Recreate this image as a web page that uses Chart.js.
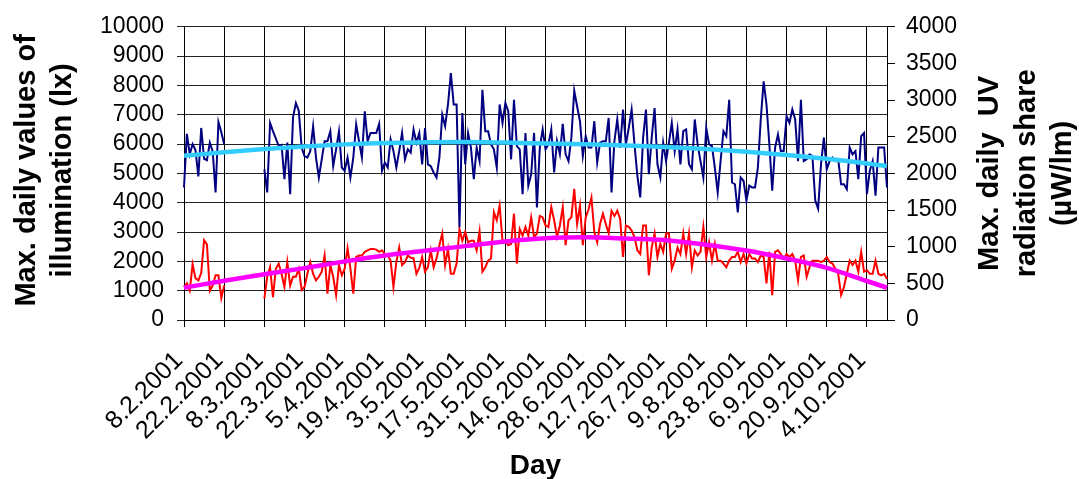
<!DOCTYPE html>
<html>
<head>
<meta charset="utf-8">
<script src="https://cdn.jsdelivr.net/npm/chart.js@4.4.1/dist/chart.umd.min.js"></script>
<style>
  html, body { margin: 0; padding: 0; background: #fff; }
  #wrap { width: 1079px; height: 479px; position: relative; }
</style>
</head>
<body>
<div id="wrap"><canvas id="c"></canvas></div>
<script>
// Maximum daily illumination (lx), one value per day from 8.2.2001; null = no measurement
const illumination = [
  4520,6350,5650,6000,5800,4900,6550,5500,5450,6050,5750,4350,6750,6400,6000,
  null,null,null,null,null,null,null,null,null,null,null,null,null,
  5140,4350,6720,6440,6190,5930,5970,4800,6050,4290,
  6920,7400,7140,5880,5590,5540,5760,6610,5540,4860,
  5480,6100,6100,6440,5250,5820,6440,5200,5090,5540,
  4860,5540,6670,6100,5540,7120,6100,6380,6380,6380,
  6690,5090,5370,5200,6160,5760,5200,5760,6380,5480,
  5820,5710,6500,6050,6380,5310,6550,5310,5250,5030,
  4860,5540,7000,6610,7350,8420,7350,7350,3160,7060,
  5310,6380,
  5880,4800,5880,5420,7850,6440,6440,5990,5820,5200,
  7350,6720,7400,7120,5480,7510,5930,5820,4290,6380,
  4580,4970,6380,3840,5880,6500,5820,5990,6500,5030,
  6100,5650,6690,5650,5420,6220,7820,7290,6780,5590,
  6270,5880,5880,6780,5370,6050,6100,6100,6890,4350,
  6100,6840,5880,7180,5990,6550,7180,5990,4920,4180,
  6220,7180,4970,6220,7230,5310,4860,6050,5420,6050,
  6720,5760,6500,5310,6440,6500,5310,5140,6840,5990,
  5420,4860,6550,5990,5930,5200,4350,5420,6440,6270,
  7510,4690,4630,3670,4860,4750,4070,4580,4520,4520,
  5200,6840,8140,7350,5990,4410,5880,6330,5760,5760,
  6950,6720,7180,6840,5420,7510,5420,5480,5650,5590,
  4070,3790,5310,6220,5140,5420,5540,5420,5480,4630,
  4630,4460,5880,5650,5760,4800,6270,6380,4290,5090,
  5420,4240,5880,5880,5880,4520
];

// Maximum daily UV radiation share (µW/lm), same days
const uvShare = [
  450,500,400,760,570,540,640,1090,1030,400,470,610,610,300,470,
  null,null,null,null,null,null,null,null,null,null,null,null,null,
  290,590,720,310,700,770,630,450,790,470,
  590,590,700,410,450,630,790,630,540,590,
  660,880,360,750,590,340,750,610,700,980,
  700,360,860,880,880,930,950,970,970,960,
  930,950,900,880,810,450,790,990,750,790,
  880,850,840,630,710,860,660,720,950,720,
  840,1020,1180,750,970,630,630,770,1240,1080,
  1200,1060,
  1080,1080,950,1210,660,720,810,840,1470,1360,
  1560,1080,1080,1020,1040,1450,770,1240,1150,1270,
  1150,1400,1130,1180,1420,1400,1290,1270,1540,1360,
  1130,1290,1540,1020,1360,1400,1790,1310,1560,1020,
  1400,1510,1670,1200,1060,1310,1450,1310,1180,1490,
  1420,1490,1380,860,1290,1270,1220,1130,950,900,
  1290,1290,610,990,1180,860,1040,930,1180,1180,
  700,810,990,900,1180,900,1180,720,950,880,
  930,1270,860,1060,810,1040,810,810,770,720,
  810,860,860,930,790,900,770,900,840,840,
  790,880,860,500,930,340,930,950,900,840,
  900,860,900,810,540,860,880,590,720,810,
  810,810,790,810,860,790,770,700,630,340,
  450,630,810,750,810,660,930,660,680,630,
  630,810,630,610,630,560
];

// Labelled days on the time axis (every 14 days)
const tickLabels = [
  '8.2.2001','22.2.2001','8.3.2001','22.3.2001','5.4.2001','19.4.2001',
  '3.5.2001','17.5.2001','31.5.2001','14.6.2001','28.6.2001','12.7.2001',
  '26.7.2001','9.8.2001','23.8.2001','6.9.2001','20.9.2001','4.10.2001'
];

// Trend curves, sampled at the labelled days and the last day
const trendDays = [...tickLabels, '11.10.2001'];
const illumTrend = [5600,5720,5830,5920,5990,6040,6060,6070,6050,6020,5990,5950,5900,5830,5740,5630,5500,5340,5250];
const uvTrend = [440,536,624,708,800,880,944,1008,1072,1116,1128,1112,1088,1028,948,840,712,532,440];

// Category labels: one per measured day, starting 8.2.2001
const days = [];
for (let d = new Date(2001, 1, 8); days.length < illumination.length; d.setDate(d.getDate() + 1)) {
  days.push(d.getDate() + '.' + (d.getMonth() + 1) + '.' + d.getFullYear());
}
const tickSet = new Set(tickLabels);

const FONT = "'Liberation Sans', Arial, sans-serif";
const leftTitle = ['Max. daily values of', 'illumination (lx)'];
const rightTitle = ['Max. daily  UV', 'radiation share', '(\u00b5W/lm)'];
const xTitle = 'Day';

// Axis titles: both vertical titles read bottom-to-top
const axisTitles = {
  id: 'axisTitles',
  afterDraw(chart) {
    const { ctx, chartArea: { top, bottom, left, right } } = chart;
    const midY = (top + bottom) / 2;
    ctx.save();
    ctx.fillStyle = '#000';
    ctx.textAlign = 'center';
    ctx.textBaseline = 'alphabetic';
    ctx.font = 'bold 29px ' + FONT;
    const vertical = (lines, xs, y) => lines.forEach((t, k) => {
      ctx.save();
      ctx.translate(xs[k], y);
      ctx.rotate(-Math.PI / 2);
      ctx.fillText(t, 0, 0);
      ctx.restore();
    });
    vertical(leftTitle, [35, 71], midY - 3);
    vertical(rightTitle, [right + 111, right + 148, right + 184], midY);
    ctx.font = 'bold 28px ' + FONT;
    ctx.fillText(xTitle, (left + right) / 2, 474);
    ctx.restore();
  }
};

const tickFont = { family: FONT, size: 23 };

new Chart(document.getElementById('c'), {
  type: 'line',
  data: {
    labels: days,
    datasets: [
      {
        label: 'Illumination trend',
        data: trendDays.map((d, k) => ({ x: d, y: illumTrend[k] })),
        yAxisID: 'y',
        borderColor: '#33CCFF',
        borderWidth: 4.5,
        pointRadius: 0,
        cubicInterpolationMode: 'monotone',
        order: 0
      },
      {
        label: 'UV trend',
        data: trendDays.map((d, k) => ({ x: d, y: uvTrend[k] })),
        yAxisID: 'y1',
        borderColor: '#FF00FF',
        borderWidth: 4.5,
        pointRadius: 0,
        cubicInterpolationMode: 'monotone',
        order: 0
      },
      {
        label: 'Max. daily illumination',
        data: illumination,
        yAxisID: 'y',
        borderColor: '#000080',
        borderWidth: 2,
        pointRadius: 0,
        tension: 0,
        spanGaps: false,
        order: 1
      },
      {
        label: 'Max. daily UV radiation share',
        data: uvShare,
        yAxisID: 'y1',
        borderColor: '#FF0000',
        borderWidth: 2,
        pointRadius: 0,
        tension: 0,
        spanGaps: false,
        order: 1
      }
    ]
  },
  options: {
    responsive: true,
    maintainAspectRatio: false,
    animation: false,
    layout: { padding: { top: 25, left: 0, right: 0, bottom: 0 } },
    plugins: { legend: { display: false }, tooltip: { enabled: false } },
    scales: {
      x: {
        type: 'category',
        offset: false,
        grid: { color: '#000', lineWidth: 1, tickLength: 7 },
        border: { color: '#000', width: 1 },
        ticks: {
          autoSkip: false,
          minRotation: 45,
          maxRotation: 45,
          color: '#000',
          font: { family: FONT, size: 25 },
          padding: 19,
          labelOffset: -5,
          callback: (v, i) => tickSet.has(days[i]) ? days[i] : null
        },
        afterFit: s => { s.height = 159; }
      },
      y: {
        position: 'left',
        min: 0,
        max: 10000,
        grid: { color: '#222', lineWidth: 1, tickLength: 7 },
        border: { color: '#000', width: 1 },
        ticks: { autoSkip: false, stepSize: 1000, color: '#000', font: tickFont, padding: 13, callback: v => String(v) },
        afterFit: s => { s.width = 184; }
      },
      y1: {
        position: 'right',
        min: 0,
        max: 4000,
        grid: { drawOnChartArea: false, color: '#000', lineWidth: 1, tickLength: 8 },
        border: { color: '#000', width: 1 },
        ticks: { autoSkip: false, stepSize: 500, color: '#000', font: tickFont, padding: 11, callback: v => String(v) },
        afterFit: s => { s.width = 192; }
      }
    }
  },
  plugins: [axisTitles]
});
</script>
</body>
</html>
